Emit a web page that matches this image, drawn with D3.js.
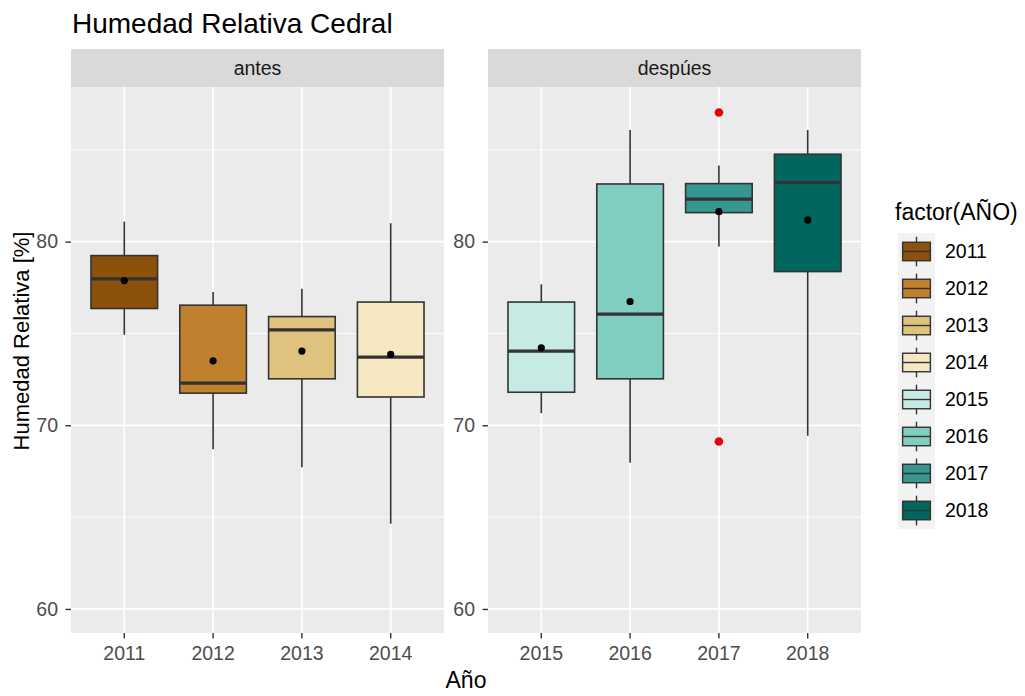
<!DOCTYPE html>
<html><head><meta charset="utf-8">
<script src="https://cdn.jsdelivr.net/npm/d3@7"></script>
<style>body{margin:0;background:#fff}svg{display:block;font-family:"Liberation Sans",Arial,sans-serif}</style>
</head><body><svg id="c" width="1025" height="696"></svg>
<script>
// ---- data ----
const groupsNames = ["antes", "despúes"];
const yearsAntes = ["2011", "2012", "2013", "2014"];
const yearsDespues = ["2015", "2016", "2017", "2018"];
const allYears = yearsAntes.concat(yearsDespues);
const whiskerLow  = [74.93, 68.69, 67.72, 64.64, 70.66, 67.96, 79.73, 69.43];
const q1          = [76.36, 71.75, 72.53, 71.54, 71.80, 72.53, 81.58, 78.37];
const medianVals  = [77.97, 72.30, 75.20, 73.71, 74.04, 76.05, 82.32, 83.22];
const q3          = [79.24, 76.54, 75.92, 76.71, 76.71, 83.14, 83.16, 84.76];
const whiskerHigh = [81.09, 77.26, 77.44, 81.00, 77.68, 86.08, 84.14, 86.08];
const meanVals    = [77.88, 73.51, 74.04, 73.86, 74.22, 76.74, 81.63, 81.18];
const outlierYears = ["2017", "2017"];
const outlierVals  = [87.03, 69.12];
const yTicks = [60, 70, 80];
const yMinor = [65, 75, 85];
const fillColors = ["#8C510A", "#BF812D", "#DFC27D", "#F6E8C3", "#C7EAE5", "#80CDC1", "#35978F", "#01665E"];

// ---- layout ----
const svg = d3.select("#c");
const panelTop = 87, panelBottom = 633, stripTop = 49;
const panels = [
  {name: groupsNames[0], years: yearsAntes, x0: 71, x1: 444},
  {name: groupsNames[1], years: yearsDespues, x0: 488, x1: 861}
];
const y = d3.scaleLinear().domain([58.69, 88.42]).range([panelBottom, panelTop]);
const color = d3.scaleOrdinal().domain(allYears).range(fillColors);
const txt = "#4D4D4D";
const tickFont = 19.5;

// title
svg.append("text").attr("x", 72).attr("y", 33).attr("font-size", 28).attr("fill", "#000").text("Humedad Relativa Cedral");

panels.forEach(p => {
  const x = d3.scaleBand().domain(p.years).range([p.x0, p.x1]).paddingInner(0).paddingOuter(0.1);
  const g = svg.append("g");
  g.append("rect").attr("x", p.x0).attr("y", panelTop).attr("width", p.x1 - p.x0).attr("height", panelBottom - panelTop).attr("fill", "#EBEBEB");
  g.append("rect").attr("x", p.x0).attr("y", stripTop).attr("width", p.x1 - p.x0).attr("height", panelTop - stripTop).attr("fill", "#D9D9D9");
  g.append("text").attr("x", (p.x0 + p.x1) / 2).attr("y", (stripTop + panelTop) / 2).attr("dy", "0.35em")
    .attr("text-anchor", "middle").attr("font-size", 19.5).attr("fill", "#1A1A1A").text(p.name);
  yMinor.forEach(v => g.append("line").attr("x1", p.x0).attr("x2", p.x1).attr("y1", y(v)).attr("y2", y(v)).attr("stroke", "#fff").attr("stroke-width", 0.9));
  yTicks.forEach(v => g.append("line").attr("x1", p.x0).attr("x2", p.x1).attr("y1", y(v)).attr("y2", y(v)).attr("stroke", "#fff").attr("stroke-width", 1.7));
  p.years.forEach(yr => {
    const cx = x(yr) + x.bandwidth() / 2;
    g.append("line").attr("x1", cx).attr("x2", cx).attr("y1", panelTop).attr("y2", panelBottom).attr("stroke", "#fff").attr("stroke-width", 1.7);
  });
  const ya = svg.append("g").attr("transform", `translate(${p.x0},0)`)
    .call(d3.axisLeft(y).tickValues(yTicks).tickSize(5.5).tickPadding(7.5).tickFormat(d3.format("d")));
  ya.select(".domain").remove();
  ya.selectAll("line").attr("stroke", "#333").attr("stroke-width", 1.4);
  ya.selectAll("text").attr("fill", txt).attr("font-size", tickFont).attr("font-family", "Liberation Sans, Arial, sans-serif");
  const xa = svg.append("g").attr("transform", `translate(0,${panelBottom})`)
    .call(d3.axisBottom(x).tickSize(5.5).tickPadding(8));
  xa.select(".domain").remove();
  xa.selectAll("line").attr("stroke", "#333").attr("stroke-width", 1.4);
  xa.selectAll("text").attr("fill", txt).attr("font-size", tickFont).attr("font-family", "Liberation Sans, Arial, sans-serif");

  p.years.forEach(yr => {
    const i = allYears.indexOf(yr);
    const cx = x(yr) + x.bandwidth() / 2;
    const bw = x.bandwidth() * 0.75;
    g.append("line").attr("x1", cx).attr("x2", cx).attr("y1", y(whiskerLow[i])).attr("y2", y(whiskerHigh[i]))
      .attr("stroke", "#333").attr("stroke-width", 1.6);
    g.append("rect").attr("x", cx - bw / 2).attr("width", bw).attr("y", y(q3[i])).attr("height", y(q1[i]) - y(q3[i]))
      .attr("fill", color(yr)).attr("stroke", "#333").attr("stroke-width", 1.6);
    g.append("line").attr("x1", cx - bw / 2).attr("x2", cx + bw / 2).attr("y1", y(medianVals[i])).attr("y2", y(medianVals[i]))
      .attr("stroke", "#333").attr("stroke-width", 3.2);
  });
  outlierYears.forEach((yr, k) => {
    if (p.years.indexOf(yr) < 0) return;
    g.append("circle").attr("cx", x(yr) + x.bandwidth() / 2).attr("cy", y(outlierVals[k])).attr("r", 4.3).attr("fill", "#E8000B");
  });
  p.years.forEach(yr => {
    const i = allYears.indexOf(yr);
    g.append("circle").attr("cx", x(yr) + x.bandwidth() / 2).attr("cy", y(meanVals[i])).attr("r", 3.6).attr("fill", "#000");
  });
});

svg.append("text").attr("x", 466).attr("y", 688).attr("text-anchor", "middle").attr("font-size", 23).attr("fill", "#000").text("Año");
svg.append("text").attr("transform", `translate(29,${(stripTop + panelBottom) / 2}) rotate(-90)`).attr("text-anchor", "middle")
  .attr("font-size", 22).attr("fill", "#000").text("Humedad Relativa [%]");

const lg = svg.append("g");
lg.append("text").attr("x", 895).attr("y", 220).attr("font-size", 23).attr("fill", "#000").text("factor(AÑO)");
const keyX = 898, keyW = 37, keyTop = 233, keyH = 37;
allYears.forEach((yr, i) => {
  const ky = keyTop + i * keyH;
  lg.append("rect").attr("x", keyX).attr("y", ky).attr("width", keyW).attr("height", keyH).attr("fill", "#F2F2F2");
  const cx = keyX + keyW / 2;
  lg.append("line").attr("x1", cx).attr("x2", cx).attr("y1", ky + keyH * 0.1).attr("y2", ky + keyH * 0.9).attr("stroke", "#333").attr("stroke-width", 1.4);
  lg.append("rect").attr("x", keyX + keyW * 0.125).attr("y", ky + keyH * 0.25).attr("width", keyW * 0.75).attr("height", keyH * 0.5)
    .attr("fill", color(yr)).attr("stroke", "#333").attr("stroke-width", 1.4);
  lg.append("line").attr("x1", keyX + keyW * 0.125).attr("x2", keyX + keyW * 0.875).attr("y1", ky + keyH / 2).attr("y2", ky + keyH / 2)
    .attr("stroke", "#333").attr("stroke-width", 1.4);
  lg.append("text").attr("x", 945).attr("y", ky + keyH / 2).attr("dy", "0.35em").attr("font-size", tickFont).attr("fill", "#000").text(yr);
});
</script></body></html>
